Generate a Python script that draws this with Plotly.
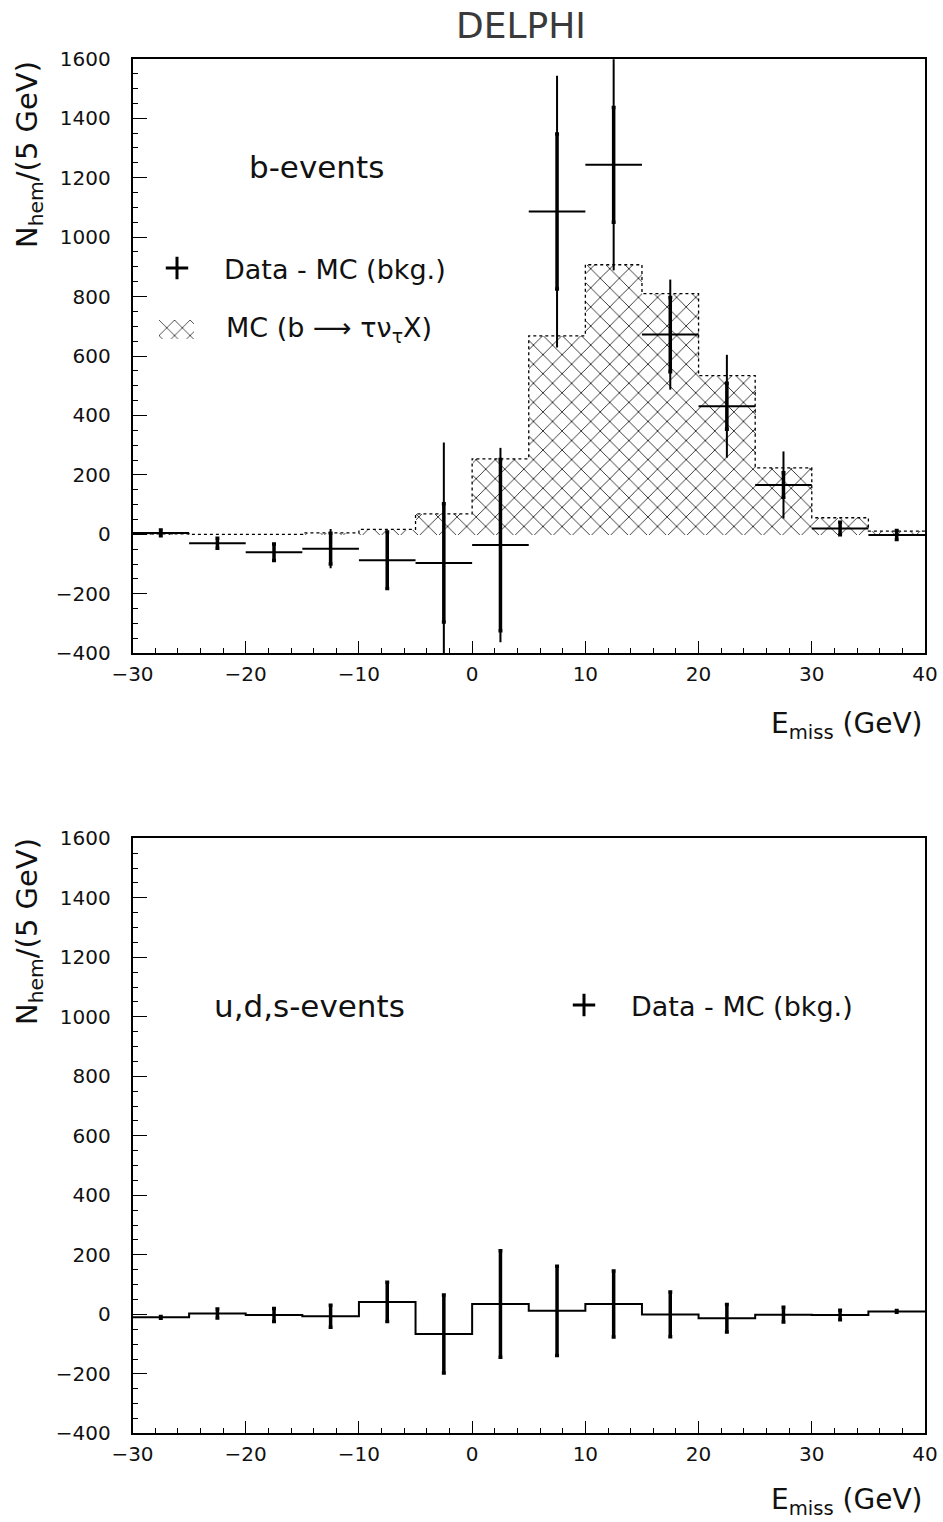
import plotly.graph_objects as go

# ---------------- data ----------------
bin_edges = [-30, -25, -20, -15, -10, -5, 0, 5, 10, 15, 20, 25, 30, 35, 40]
bin_centers = [-27.5, -22.5, -17.5, -12.5, -7.5, -2.5, 2.5, 7.5, 12.5, 17.5, 22.5, 27.5, 32.5, 37.5]
half_width = [2.5] * 14

# top panel: b-events
mc_signal = [2, 0, 0, 5, 17, 69, 254, 668, 907, 810, 534, 224, 56, 11]
b_data = [5, -30, -60, -48, -87, -96, -36, 1086, 1243, 672, 431, 166, 20, -2]
b_stat = [10, 17, 28, 52, 95, 199, 288, 261, 193, 125, 77, 41, 21, 15]
b_total = [12, 17, 28, 66, 100, 405, 327, 457, 355, 185, 173, 113, 21, 15]

# bottom panel: u,d,s-events
uds_data = [-10, 3, -2, -6, 42, -66, 35, 12, 35, 0, -13, -1, -2, 10]
uds_err = [3, 15, 22, 37, 66, 131, 179, 150, 111, 75, 46, 25, 16, 3]

y_ticks = [-400, -200, 0, 200, 400, 600, 800, 1000, 1200, 1400, 1600]
x_ticks = [-30, -20, -10, 0, 10, 20, 30, 40]

# ---------------- figure ----------------
W, H = 943, 1522
FONT = "DejaVu Sans"
INK = "#111111"


def px(x):
    return x / W


def py(y):
    return 1 - y / H


HATCH = dict(shape="x", fgcolor="black", bgcolor="white", fgopacity=1,
             size=13.5, solidity=0.11)

fig = go.Figure()

# MC hatched histogram
fig.add_trace(go.Bar(
    x=bin_centers, y=mc_signal, width=5, base=0,
    marker=dict(color="white", line=dict(width=0), pattern=HATCH),
    xaxis="x", yaxis="y", showlegend=False,
))
# dotted outline of the MC histogram
fig.add_trace(go.Scatter(
    x=bin_edges + [bin_edges[-1]], y=mc_signal + [mc_signal[-1], 0],
    mode="lines", line=dict(shape="hv", dash="dot", color="black", width=1.3),
    xaxis="x", yaxis="y", showlegend=False, hoverinfo="skip",
))
# data: total errors (thin) + bin width
fig.add_trace(go.Scatter(
    x=bin_centers, y=b_data, mode="markers", marker=dict(size=1, color="black"),
    error_x=dict(type="data", array=half_width, width=0, thickness=2, color="black"),
    error_y=dict(type="data", array=b_total, width=0, thickness=2, color="black"),
    xaxis="x", yaxis="y", showlegend=False,
))
# data: statistical errors (thick)
fig.add_trace(go.Scatter(
    x=bin_centers, y=b_data, mode="markers", marker=dict(size=1, color="black"),
    error_y=dict(type="data", array=b_stat, width=2, thickness=3.5, color="black"),
    xaxis="x", yaxis="y", showlegend=False,
))
# legend-only entry for the data symbol
fig.add_trace(go.Scatter(
    x=[None], y=[None], mode="markers",
    marker=dict(symbol="cross-thin", size=16, line=dict(width=3, color="black")),
    name="Data - MC (bkg.)", legend="legend",
    xaxis="x", yaxis="y", showlegend=True,
))
# hatched legend swatch for the MC histogram (drawn on a tiny hidden axis)
fig.add_trace(go.Bar(
    x=[0.5], y=[1], width=1, base=0,
    marker=dict(color="white", line=dict(width=0),
                pattern=dict(shape="x", fgcolor="black", bgcolor="white", fgopacity=1,
                             size=11, solidity=0.12)),
    xaxis="x3", yaxis="y3", showlegend=False, hoverinfo="skip",
))

# bottom panel histogram line
fig.add_trace(go.Scatter(
    x=bin_edges, y=uds_data + [uds_data[-1]],
    mode="lines", line=dict(shape="hv", color="black", width=2),
    xaxis="x2", yaxis="y2", showlegend=False, hoverinfo="skip",
))
fig.add_trace(go.Scatter(
    x=bin_centers, y=uds_data, mode="markers", marker=dict(size=1, color="black"),
    error_y=dict(type="data", array=uds_err, width=2, thickness=3.5, color="black"),
    xaxis="x2", yaxis="y2", showlegend=False,
))
fig.add_trace(go.Scatter(
    x=[None], y=[None], mode="markers",
    marker=dict(symbol="cross-thin", size=16, line=dict(width=3, color="black")),
    name="Data - MC (bkg.)", legend="legend2",
    xaxis="x2", yaxis="y2", showlegend=True,
))

xdom = [px(132.5), px(925)]
axis_common = dict(
    showline=True, linecolor="black", linewidth=1.5, mirror=True,
    ticks="inside", tickcolor="black", tickwidth=1.2,
    showgrid=False, zeroline=False, automargin=False,
    tickfont=dict(family=FONT, size=20, color=INK),
)
xcommon = dict(axis_common, range=[-30, 40], tickvals=x_ticks, ticklen=13,
               minor=dict(ticks="inside", ticklen=6, dtick=2, tickcolor="black", tickwidth=1),
               domain=xdom, ticklabelstandoff=2)
ycommon = dict(axis_common, range=[-400, 1600], tickvals=y_ticks, ticklen=15,
               minor=dict(ticks="inside", ticklen=6, dtick=50, tickcolor="black", tickwidth=1),
               ticklabelstandoff=16)

fig.update_layout(
    width=W, height=H, margin=dict(l=0, r=0, t=0, b=0, autoexpand=False),
    paper_bgcolor="white", plot_bgcolor="white",
    bargap=0,
    xaxis=dict(xcommon, anchor="y"),
    yaxis=dict(ycommon, domain=[py(653.3), py(58.7)], anchor="x"),
    xaxis2=dict(xcommon, anchor="y2"),
    yaxis2=dict(ycommon, domain=[py(1433.4), py(838.3)], anchor="x2"),
    xaxis3=dict(domain=[px(159), px(194)], range=[0, 1], visible=False, anchor="y3"),
    yaxis3=dict(domain=[py(339), py(320)], range=[0, 1], visible=False, anchor="x3"),
    legend=dict(x=px(130), y=py(244), xanchor="left", yanchor="top",
                font=dict(family=FONT, size=27, color=INK),
                bgcolor="rgba(0,0,0,0)", itemwidth=84),
    legend2=dict(x=px(537), y=py(981), xanchor="left", yanchor="top",
                 font=dict(family=FONT, size=27, color=INK),
                 bgcolor="rgba(0,0,0,0)", itemwidth=84),
    showlegend=True,
)


def note(text, x, y, size, xanchor="center", angle=0, color=INK):
    return dict(text=text, x=px(x), y=py(y), xref="paper", yref="paper",
                xanchor=xanchor, yanchor="middle", showarrow=False, textangle=angle,
                font=dict(family=FONT, size=size, color=color))


ann = [note("DELPHI", 521, 26, 36, color="#3a3a3a")]
for ycen in (155, 932):
    ann.append(note("N<sub>hem</sub>/(5 GeV)", 29, ycen, 29, angle=-90))
for ycen in (725, 1501):
    ann.append(note("E<sub>miss</sub> (GeV)", 924, ycen, 28, xanchor="right"))
ann.append(note("b-events", 247, 167, 31, xanchor="left"))
ann.append(note("u,d,s-events", 212, 1006, 31, xanchor="left"))
ann.append(note("MC (b \u27f6 \u03c4\u03bd<sub>\u03c4</sub>X)", 224, 330, 27, xanchor="left"))
fig.update_layout(annotations=ann)

# remove the default page margin so the figure sits at the page origin
fig.write_html("out.html", config={"displayModeBar": False},
               post_script="document.body.style.margin='0px';")
